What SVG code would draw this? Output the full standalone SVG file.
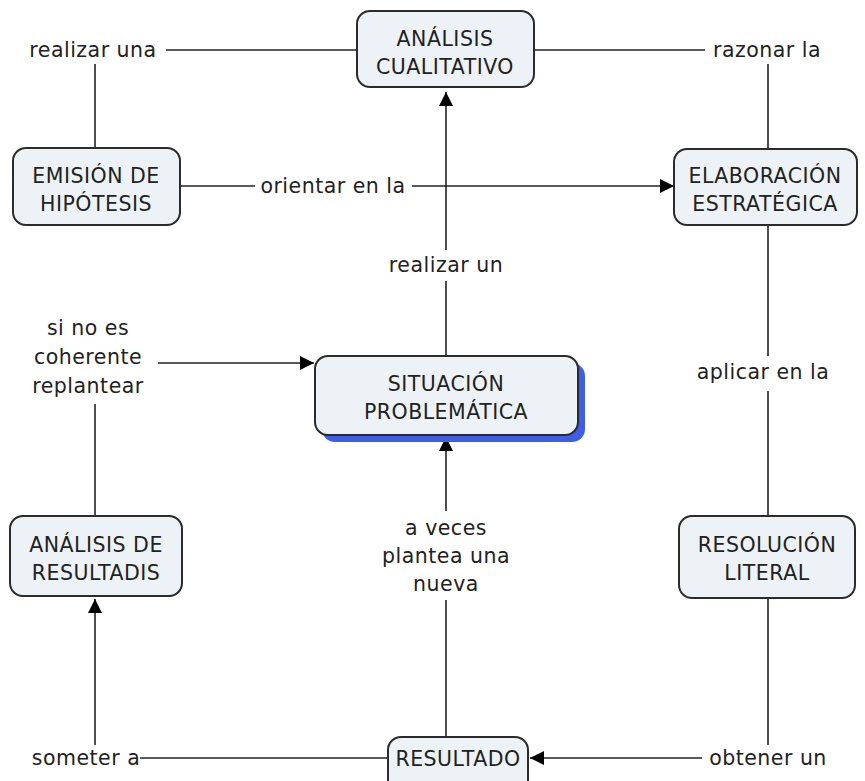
<svg xmlns="http://www.w3.org/2000/svg" width="865" height="781" viewBox="0 0 865 781">
<style>
.n{fill:#edf2f6;stroke:#2b2b2b;stroke-width:2}
.t{font-family:"DejaVu Sans",Verdana,sans-serif;font-size:20.5px;letter-spacing:0.5px;fill:#222;text-anchor:middle}
.c{stroke:#222;stroke-width:1.6;fill:none}
</style>
<defs>
<marker id="a" viewBox="0 0 10 10" refX="10" refY="5" markerWidth="14" markerHeight="14" markerUnits="userSpaceOnUse" orient="auto"><path d="M0,0L10,5L0,10Z" fill="#000"/></marker>
</defs>
<rect width="865" height="781" fill="#fff"/>
<g id="connectors">
<line class="c" x1="95" y1="147" x2="95" y2="64"/>
<line class="c" x1="166" y1="50" x2="357" y2="50"/>
<text class="t" x="93" y="57">realizar una</text>
<line class="c" x1="534" y1="50" x2="705" y2="50"/>
<line class="c" x1="768" y1="64" x2="768" y2="149"/>
<text class="t" x="767" y="57">razonar la</text>
<line class="c" x1="180" y1="186" x2="255" y2="186"/>
<text class="t" x="333" y="193">orientar en la</text>
<line class="c" x1="412" y1="186" x2="674" y2="186" marker-end="url(#a)"/>
<line class="c" x1="446" y1="356" x2="446" y2="281"/>
<text class="t" x="446" y="272">realizar un</text>
<line class="c" x1="446" y1="250" x2="446" y2="92" marker-end="url(#a)"/>
<line class="c" x1="768" y1="225" x2="768" y2="356"/>
<text class="t" x="763" y="379">aplicar en la</text>
<line class="c" x1="768" y1="391" x2="768" y2="516"/>
<text class="t" x="88" y="335">si no es</text>
<text class="t" x="88" y="364">coherente</text>
<text class="t" x="88" y="393">replantear</text>
<line class="c" x1="158" y1="363" x2="314" y2="363" marker-end="url(#a)"/>
<line class="c" x1="95" y1="404" x2="95" y2="516"/>
<line class="c" x1="446" y1="737" x2="446" y2="600"/>
<text class="t" x="446" y="535">a veces</text>
<text class="t" x="446" y="563">plantea una</text>
<text class="t" x="446" y="591">nueva</text>
<line class="c" x1="446" y1="511" x2="446" y2="437" marker-end="url(#a)"/>
<line class="c" x1="95" y1="745" x2="95" y2="599" marker-end="url(#a)"/>
<text class="t" x="86" y="765">someter a</text>
<line class="c" x1="140" y1="758" x2="388" y2="758"/>
<line class="c" x1="768" y1="598" x2="768" y2="745"/>
<text class="t" x="768" y="765">obtener un</text>
<line class="c" x1="702" y1="758" x2="530" y2="758" marker-end="url(#a)"/>
</g>
<g id="analisis-cualitativo">
<rect class="n" x="357" y="11" width="177" height="76" rx="13"/>
<text class="t" x="445" y="46">ANÁLISIS</text>
<text class="t" x="445" y="74">CUALITATIVO</text>
</g>
<g id="emision-hipotesis">
<rect class="n" x="13" y="148" width="167" height="77" rx="13"/>
<text class="t" x="96" y="183">EMISIÓN DE</text>
<text class="t" x="96" y="211">HIPÓTESIS</text>
</g>
<g id="elaboracion-estrategica">
<rect class="n" x="674" y="149" width="183" height="76" rx="13"/>
<text class="t" x="765" y="183">ELABORACIÓN</text>
<text class="t" x="765" y="211">ESTRATÉGICA</text>
</g>
<g id="situacion-problematica">
<rect x="322" y="363" width="263" height="79" rx="13" fill="#3d5fe8"/>
<rect class="n" x="315" y="356" width="263" height="79" rx="13"/>
<text class="t" x="446" y="391">SITUACIÓN</text>
<text class="t" x="446" y="419">PROBLEMÁTICA</text>
</g>
<g id="analisis-resultadis">
<rect class="n" x="10" y="516" width="172" height="80" rx="13"/>
<text class="t" x="96" y="552">ANÁLISIS DE</text>
<text class="t" x="96" y="580">RESULTADIS</text>
</g>
<g id="resolucion-literal">
<rect class="n" x="679" y="516" width="176" height="82" rx="13"/>
<text class="t" x="767" y="552">RESOLUCIÓN</text>
<text class="t" x="767" y="580">LITERAL</text>
</g>
<g id="resultado">
<rect class="n" x="388" y="737" width="140" height="56" rx="13"/>
<text class="t" x="458" y="766">RESULTADO</text>
</g>
</svg>
